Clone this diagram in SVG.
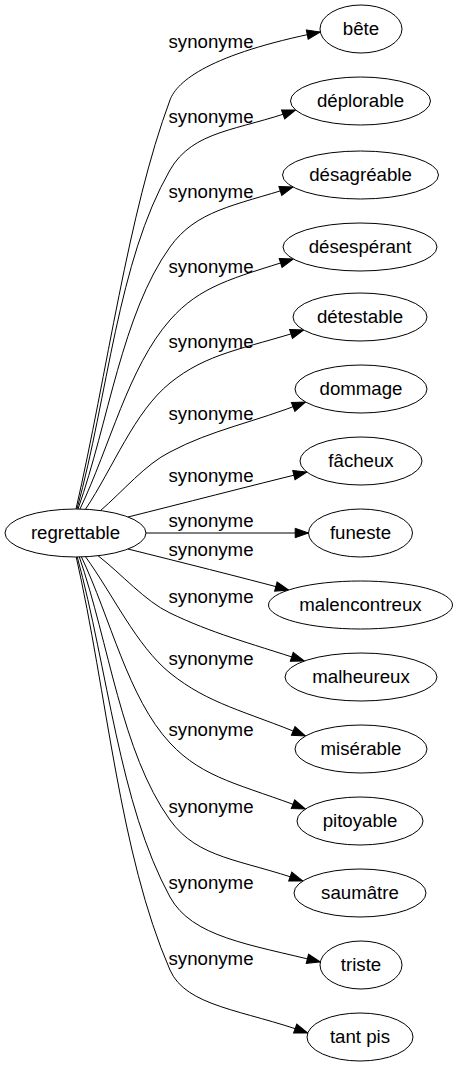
<svg xmlns="http://www.w3.org/2000/svg" width="457" height="1067" viewBox="0 0 457 1067">
<style>
.n ellipse{fill:#fff;stroke:#000;stroke-width:1}
text{font-family:"Liberation Sans",Arial,sans-serif;font-size:18.67px;fill:#000;text-anchor:middle}
.e path{fill:none;stroke:#000;stroke-width:1;marker-end:url(#ah)}
</style>
<defs>
<marker id="ah" markerUnits="userSpaceOnUse" markerWidth="16" markerHeight="12" refX="13.3" refY="4.7" orient="auto" overflow="visible">
<path d="M0,0 L13.3,4.7 L0,9.4 z" fill="#000" stroke="#000" stroke-width="1"/>
</marker>
</defs>
<rect width="457" height="1067" fill="#fff"/>
<g id="edges" class="e">
<path d="M76,509 C107.3,372.7 128,212.8 170,100 C177,81 210,54 320.3,32"/>
<path d="M77,509 C108,396 117.5,261.4 170,170 C193,130 238.3,130.7 295.6,110"/>
<path d="M78,509 C108.7,421.7 121.9,314.2 170,247 C196.2,210.4 233.6,205.8 293,187"/>
<path d="M80,509 C110,446 128.4,367.3 170,320 C200,286 232.5,278.2 293.3,259"/>
<path d="M85,510 C113.3,467.7 134.1,412 170,383 C207,353.1 242.9,349.2 303.7,330"/>
<path d="M100,511 C123.3,491 145.4,464.2 170,452 C212,429.6 254.3,422.4 305.5,402"/>
<path d="M128,517 C180,504 250,486 306.8,472"/>
<path d="M146,533 L308.5,533"/>
<path d="M128,549 C180,562 240,577 288.7,590"/>
<path d="M98,555.7 C122,574.3 144.8,601 170,613 C212.4,633.3 245.5,641.8 304.4,661"/>
<path d="M85,556 C113.3,595 136.5,645.9 170,673 C208.5,704.1 244.8,710.9 305.5,736"/>
<path d="M81,556 C110.7,618.3 127.8,697.7 170,743 C203.8,779.3 242.2,784.5 305.4,809"/>
<path d="M79,556 C109.3,644 121.3,752 170,820 C198,859 240.8,859.2 302.8,881"/>
<path d="M77,556 C108,669.7 119.1,803.7 170,897 C192,937 248.5,944.2 320.3,962"/>
<path d="M76,556 C107.3,694 119.2,853.2 170,970 C186,1006.8 243.8,1009.9 307.7,1033"/>
</g>
<g id="edge-labels">
<text x="211" y="48">synonyme</text>
<text x="211" y="123">synonyme</text>
<text x="211" y="198">synonyme</text>
<text x="211" y="273">synonyme</text>
<text x="211" y="348">synonyme</text>
<text x="211" y="420">synonyme</text>
<text x="211" y="482">synonyme</text>
<text x="211" y="527">synonyme</text>
<text x="211" y="556">synonyme</text>
<text x="211" y="603">synonyme</text>
<text x="211" y="665">synonyme</text>
<text x="211" y="736">synonyme</text>
<text x="211" y="813">synonyme</text>
<text x="211" y="889">synonyme</text>
<text x="211" y="965">synonyme</text>
</g>
<g id="regrettable" class="n"><ellipse cx="75.5" cy="533" rx="70.5" ry="24"/><text x="75.5" y="539">regrettable</text></g>
<g id="bete" class="n"><ellipse cx="361" cy="29" rx="41" ry="24"/><text x="361" y="35">bête</text></g>
<g id="deplorable" class="n"><ellipse cx="360.5" cy="101" rx="70" ry="24"/><text x="360.5" y="107">déplorable</text></g>
<g id="desagreable" class="n"><ellipse cx="360.5" cy="175" rx="78" ry="24"/><text x="360.5" y="181">désagréable</text></g>
<g id="desesperant" class="n"><ellipse cx="360" cy="247" rx="77" ry="24"/><text x="360" y="253">désespérant</text></g>
<g id="detestable" class="n"><ellipse cx="360" cy="317" rx="67" ry="24"/><text x="360" y="323">détestable</text></g>
<g id="dommage" class="n"><ellipse cx="361" cy="389" rx="66" ry="24"/><text x="361" y="395">dommage</text></g>
<g id="facheux" class="n"><ellipse cx="361" cy="461" rx="61" ry="24"/><text x="361" y="467">fâcheux</text></g>
<g id="funeste" class="n"><ellipse cx="360.5" cy="533" rx="52" ry="24"/><text x="360.5" y="539">funeste</text></g>
<g id="malencontreux" class="n"><ellipse cx="360.5" cy="605" rx="92" ry="24"/><text x="360.5" y="611">malencontreux</text></g>
<g id="malheureux" class="n"><ellipse cx="361" cy="677" rx="76" ry="24"/><text x="361" y="683">malheureux</text></g>
<g id="miserable" class="n"><ellipse cx="361" cy="749" rx="66" ry="24"/><text x="361" y="755">misérable</text></g>
<g id="pitoyable" class="n"><ellipse cx="360" cy="821" rx="63" ry="24"/><text x="360" y="827">pitoyable</text></g>
<g id="saumatre" class="n"><ellipse cx="360" cy="893" rx="66" ry="24"/><text x="360" y="899">saumâtre</text></g>
<g id="triste" class="n"><ellipse cx="361" cy="965" rx="41" ry="24"/><text x="361" y="971">triste</text></g>
<g id="tant-pis" class="n"><ellipse cx="360" cy="1037" rx="53" ry="24"/><text x="360" y="1043">tant pis</text></g>
</svg>
